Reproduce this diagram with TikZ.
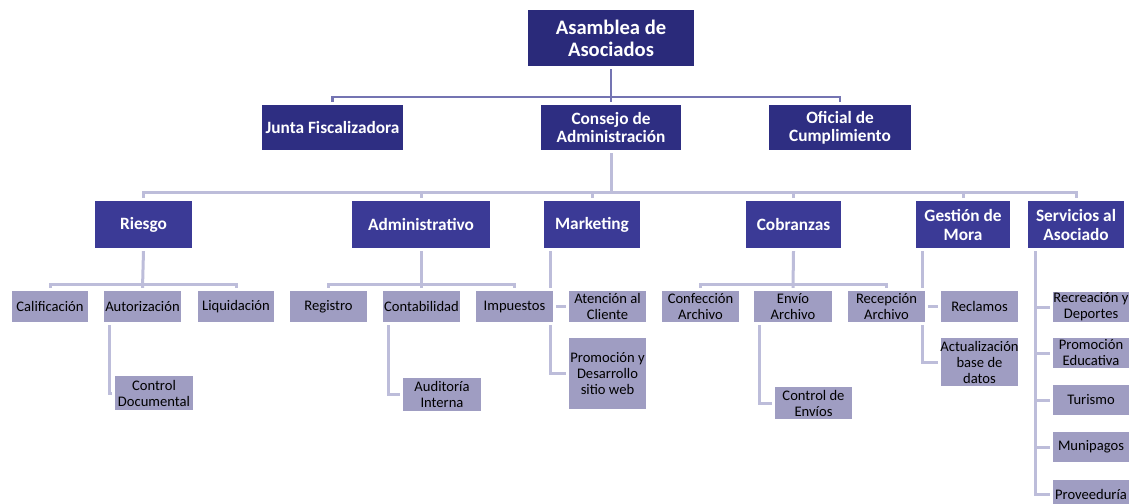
\documentclass[tikz,border=0pt]{standalone}
\usepackage{fontspec}
\setmainfont{Carlito}
\definecolor{ctop}{HTML}{2A2A7A}
\definecolor{cone}{HTML}{2E2E82}
\definecolor{ctwo}{HTML}{3B3A96}
\definecolor{clight}{HTML}{9F9DC2}
\definecolor{lineA}{HTML}{7474B2}
\definecolor{lineB}{HTML}{BDBDDA}
\pgfdeclarelayer{back}
\pgfdeclarelayer{bg}
\pgfsetlayers{back,bg,main}
\newcommand\mybox[7]{\node[#2, minimum width={#5-#3+3}, minimum height={#6-#4+3}] (#1) at ({(#3+#5)/2},{(#4+#6)/2}) {#7};}
\tikzset{
  base/.style={draw=white, line width=3pt, inner sep=0pt, align=center},
  lvtop/.style={base, fill=ctop, text=white, font=\bfseries\fontsize{20.6}{22}\selectfont},
  lvone/.style={base, fill=cone, text=white, font=\bfseries\fontsize{17.3}{18}\selectfont},
  lvtwo/.style={base, fill=ctwo, text=white, font=\bfseries\fontsize{17.3}{19}\selectfont},
  lvlow/.style={base, fill=clight, text=black, font=\fontsize{14.6}{16}\selectfont},
  connA/.style={draw=lineA, line width=2.4pt},
  connB/.style={draw=lineB, line width=3pt},
}
\begin{document}
\begin{tikzpicture}[x=1pt,y=-1pt]
\clip (0,0) rectangle (1131,503);
\begin{pgfonlayer}{back}
\fill[white] (0,0) rectangle (1131,503);
\end{pgfonlayer}
% top
\mybox{asam}{lvtop}{528}{10}{694}{66}{Asamblea de\\Asociados}
\mybox{junta}{lvone}{262}{105}{403}{150}{Junta Fiscalizadora}
\mybox{consejo}{lvone}{541}{105}{681}{150}{Consejo de\\Administración}
\mybox{oficial}{lvone}{769}{105}{911}{150}{Oficial de\\Cumplimiento}
% level 2
\mybox{riesgo}{lvtwo}{95}{201}{192}{248}{Riesgo}
\mybox{admin}{lvtwo}{352}{201}{490}{248}{Administrativo}
\mybox{mkt}{lvtwo}{544}{201}{640}{248}{Marketing}
\mybox{cobr}{lvtwo}{746}{201}{841}{248}{Cobranzas}
\mybox{gest}{lvtwo}{916}{201}{1010}{248}{Gestión de\\Mora}
\mybox{serv}{lvtwo}{1028}{201}{1124}{248}{Servicios al\\Asociado}
% level 3
\mybox{calif}{lvlow}{12}{291}{88}{322}{Calificación}
\mybox{autor}{lvlow}{104}{291}{181}{322}{Autorización}
\mybox{liq}{lvlow}{198}{291}{274}{322}{Liquidación}
\mybox{cdoc}{lvlow}{115}{376}{193}{410}{Control\\Documental}
\mybox{regis}{lvlow}{290}{291}{367}{322}{Registro}
\mybox{contab}{lvlow}{383}{291}{460}{322}{Contabilidad}
\mybox{impu}{lvlow}{476}{291}{553}{322}{Impuestos}
\mybox{audit}{lvlow}{403}{378}{481}{411}{Auditoría\\Interna}
\mybox{aten}{lvlow}{569}{291}{646}{322}{Atención al\\Cliente}
\mybox{promo}{lvlow}{569}{338}{646}{409}{Promoción y\\Desarrollo\\sitio web}
\mybox{confec}{lvlow}{662}{291}{739}{322}{Confección\\Archivo}
\mybox{envio}{lvlow}{754}{291}{832}{322}{Envío\\Archivo}
\mybox{recep}{lvlow}{848}{291}{925}{322}{Recepción\\Archivo}
\mybox{cenv}{lvlow}{775}{387}{852}{419}{Control de\\Envíos}
\mybox{recl}{lvlow}{941}{291}{1018}{322}{Reclamos}
\mybox{actu}{lvlow}{941}{338}{1018}{386}{Actualización\\base de\\datos}
\mybox{recre}{lvlow}{1053}{292}{1129}{322}{Recreación y\\Deportes}
\mybox{proed}{lvlow}{1053}{338}{1129}{368}{Promoción\\Educativa}
\mybox{turis}{lvlow}{1053}{385}{1129}{415}{Turismo}
\mybox{munip}{lvlow}{1053}{432}{1129}{462}{Munipagos}
\mybox{prove}{lvlow}{1053}{480}{1129}{508}{Proveeduría}
% bus coordinates
\coordinate (h1) at (611,97);
\coordinate (h2) at (611,192);
\coordinate (h3) at (611,284);
\coordinate (vr) at ([xshift=8.5]autor.south west);
\coordinate (vc) at ([xshift=8.5]contab.south west);
\coordinate (vm) at ([xshift=9.5]mkt.south west);
\coordinate (ve) at ([xshift=8.5]envio.south west);
\coordinate (vg) at ([xshift=9.5]gest.south west);
\coordinate (vs) at ([xshift=10.5]serv.south west);
\begin{pgfonlayer}{bg}
% level 1
\draw[connA] (asam.south) -- (consejo.north);
\draw[connA] (junta.north) -- (junta.north |- h1) -| (oficial.north);
% level 2
\draw[connB] (consejo.south) -- (h2);
\draw[connB] (riesgo.north) -- (riesgo.north |- h2) -| (serv.north);
\foreach \n in {admin,mkt,cobr,gest} \draw[connB] (\n.north) -- (\n.north |- h2);
% riesgo
\draw[connB] (riesgo.south) -- (autor.north);
\draw[connB] (calif.north) -- (calif.north |- h3) -| (liq.north);
\draw[connB] (vr) |- (cdoc.west);
% administrativo
\draw[connB] (admin.south) -- (admin.south |- h3);
\draw[connB] (regis.north) -- (regis.north |- h3) -| (impu.north);
\draw[connB] (contab.north) -- (contab.north |- h3);
\draw[connB] (vc) |- (audit.west);
% marketing
\draw[connB] (vm) |- (promo.west);
\draw[connB] (impu.east) -- (aten.west);
% cobranzas
\draw[connB] (cobr.south) -- (envio.north);
\draw[connB] (confec.north) -- (confec.north |- h3) -| (recep.north);
\draw[connB] (ve) |- (cenv.west);
% gestion
\draw[connB] (vg) |- (actu.west);
\draw[connB] (recep.east) -- (recl.west);
% servicios
\draw[connB] (vs) |- (prove.west);
\foreach \n in {recre,proed,turis,munip} \draw[connB] (\n.west -| vs) -- (\n.west);
\end{pgfonlayer}
\end{tikzpicture}
\end{document}
